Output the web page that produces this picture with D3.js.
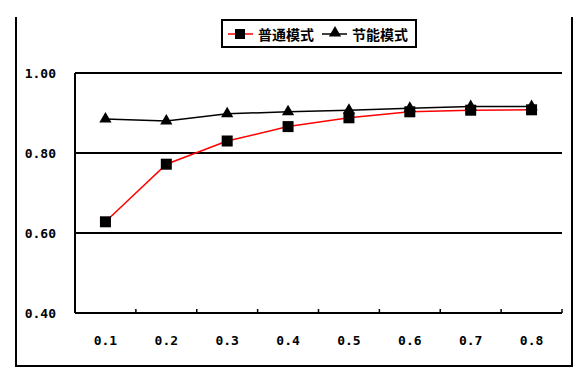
<!DOCTYPE html>
<html><head><meta charset="utf-8">
<script src="https://cdn.jsdelivr.net/npm/d3@7"></script>
<style>body{margin:0;background:#fff}</style>
</head><body>
<script>
const categories = ["0.1","0.2","0.3","0.4","0.5","0.6","0.7","0.8"];
const normalMode = [0.628,0.772,0.830,0.866,0.888,0.903,0.907,0.908];
const savingMode = [0.885,0.880,0.898,0.903,0.907,0.912,0.916,0.916];
const yTicks = [0.40,0.60,0.80,1.00];
const seriesNames = ["普通模式","节能模式"];

const W=580,H=380;
const svg=d3.select("body").append("svg").attr("width",W).attr("height",H);
svg.append("rect").attr("width",W).attr("height",H).attr("fill","#fff");

// outer frame (left, right, bottom)
svg.append("path").attr("d","M16,17V366H572V17").attr("fill","none").attr("stroke","#000").attr("stroke-width",2);

const L=75,R=562,T=73,B=313;
const x=d3.scaleBand().domain(categories).range([L,R]);
const y=d3.scaleLinear().domain([0.4,1.0]).range([B,T]);

// gridlines
svg.append("g").selectAll("line").data(yTicks).join("line")
  .attr("x1",L).attr("x2",R).attr("y1",d=>y(d)).attr("y2",d=>y(d))
  .attr("stroke","#000").attr("stroke-width",2);
// left axis line
svg.append("line").attr("x1",L).attr("x2",L).attr("y1",T).attr("y2",B).attr("stroke","#000").attr("stroke-width",2);
// x ticks (band boundaries, pointing up)
const bounds=categories.map(c=>x(c)).concat([R]);
svg.append("g").selectAll("line").data(bounds).join("line")
  .attr("x1",d=>d).attr("x2",d=>d).attr("y1",B).attr("y2",B-4)
  .attr("stroke","#000").attr("stroke-width",1.5);

const fnt="'DejaVu Sans Mono','Liberation Mono',monospace";
svg.append("g").selectAll("text").data(yTicks).join("text")
  .attr("x",56).attr("y",d=>y(d)+5).attr("text-anchor","end")
  .attr("font-family",fnt).attr("font-size",13).attr("font-weight","bold").attr("fill","#000")
  .text(d=>d3.format(".2f")(d));
svg.append("g").selectAll("text").data(categories).join("text")
  .attr("x",d=>x(d)+x.bandwidth()/2).attr("y",345).attr("text-anchor","middle")
  .attr("font-family",fnt).attr("font-size",13).attr("font-weight","bold").attr("fill","#000")
  .text(d=>d);

const cx=d=>x(d)+x.bandwidth()/2;
const line=d3.line().x((d,i)=>cx(categories[i])).y(d=>y(d));
svg.append("path").datum(normalMode).attr("d",line).attr("fill","none").attr("stroke","#ff0000").attr("stroke-width",1.5);
svg.append("path").datum(savingMode).attr("d",line).attr("fill","none").attr("stroke","#000").attr("stroke-width",1.5);

svg.append("g").selectAll("rect").data(normalMode).join("rect")
  .attr("x",(d,i)=>cx(categories[i])-5.5).attr("y",d=>y(d)-5.5).attr("width",11).attr("height",11).attr("fill","#000");
const tri=d3.symbol().type(d3.symbolTriangle).size(65);
svg.append("g").selectAll("path").data(savingMode).join("path")
  .attr("d",tri).attr("transform",(d,i)=>`translate(${cx(categories[i])},${y(d)})`).attr("fill","#000");

// legend
const lg=svg.append("g");
lg.append("rect").attr("x",222).attr("y",20).attr("width",194).attr("height",27).attr("fill","#fff").attr("stroke","#000").attr("stroke-width",2);
lg.append("line").attr("x1",228).attr("x2",253).attr("y1",34).attr("y2",34).attr("stroke","#ff0000").attr("stroke-width",1.5);
lg.append("rect").attr("x",235).attr("y",29).attr("width",10).attr("height",10).attr("fill","#000");
lg.append("line").attr("x1",322).attr("x2",347).attr("y1",34).attr("y2",34).attr("stroke","#000").attr("stroke-width",1.5);
lg.append("path").attr("d",tri).attr("transform","translate(335,33)").attr("fill","#000");
const cjk="'Noto Sans CJK SC',sans-serif";
lg.append("text").attr("x",258).attr("y",40).attr("font-family",cjk).attr("font-size",14).attr("font-weight","bold").text(seriesNames[0]);
lg.append("text").attr("x",352).attr("y",40).attr("font-family",cjk).attr("font-size",14).attr("font-weight","bold").text(seriesNames[1]);
</script>
</body></html>
